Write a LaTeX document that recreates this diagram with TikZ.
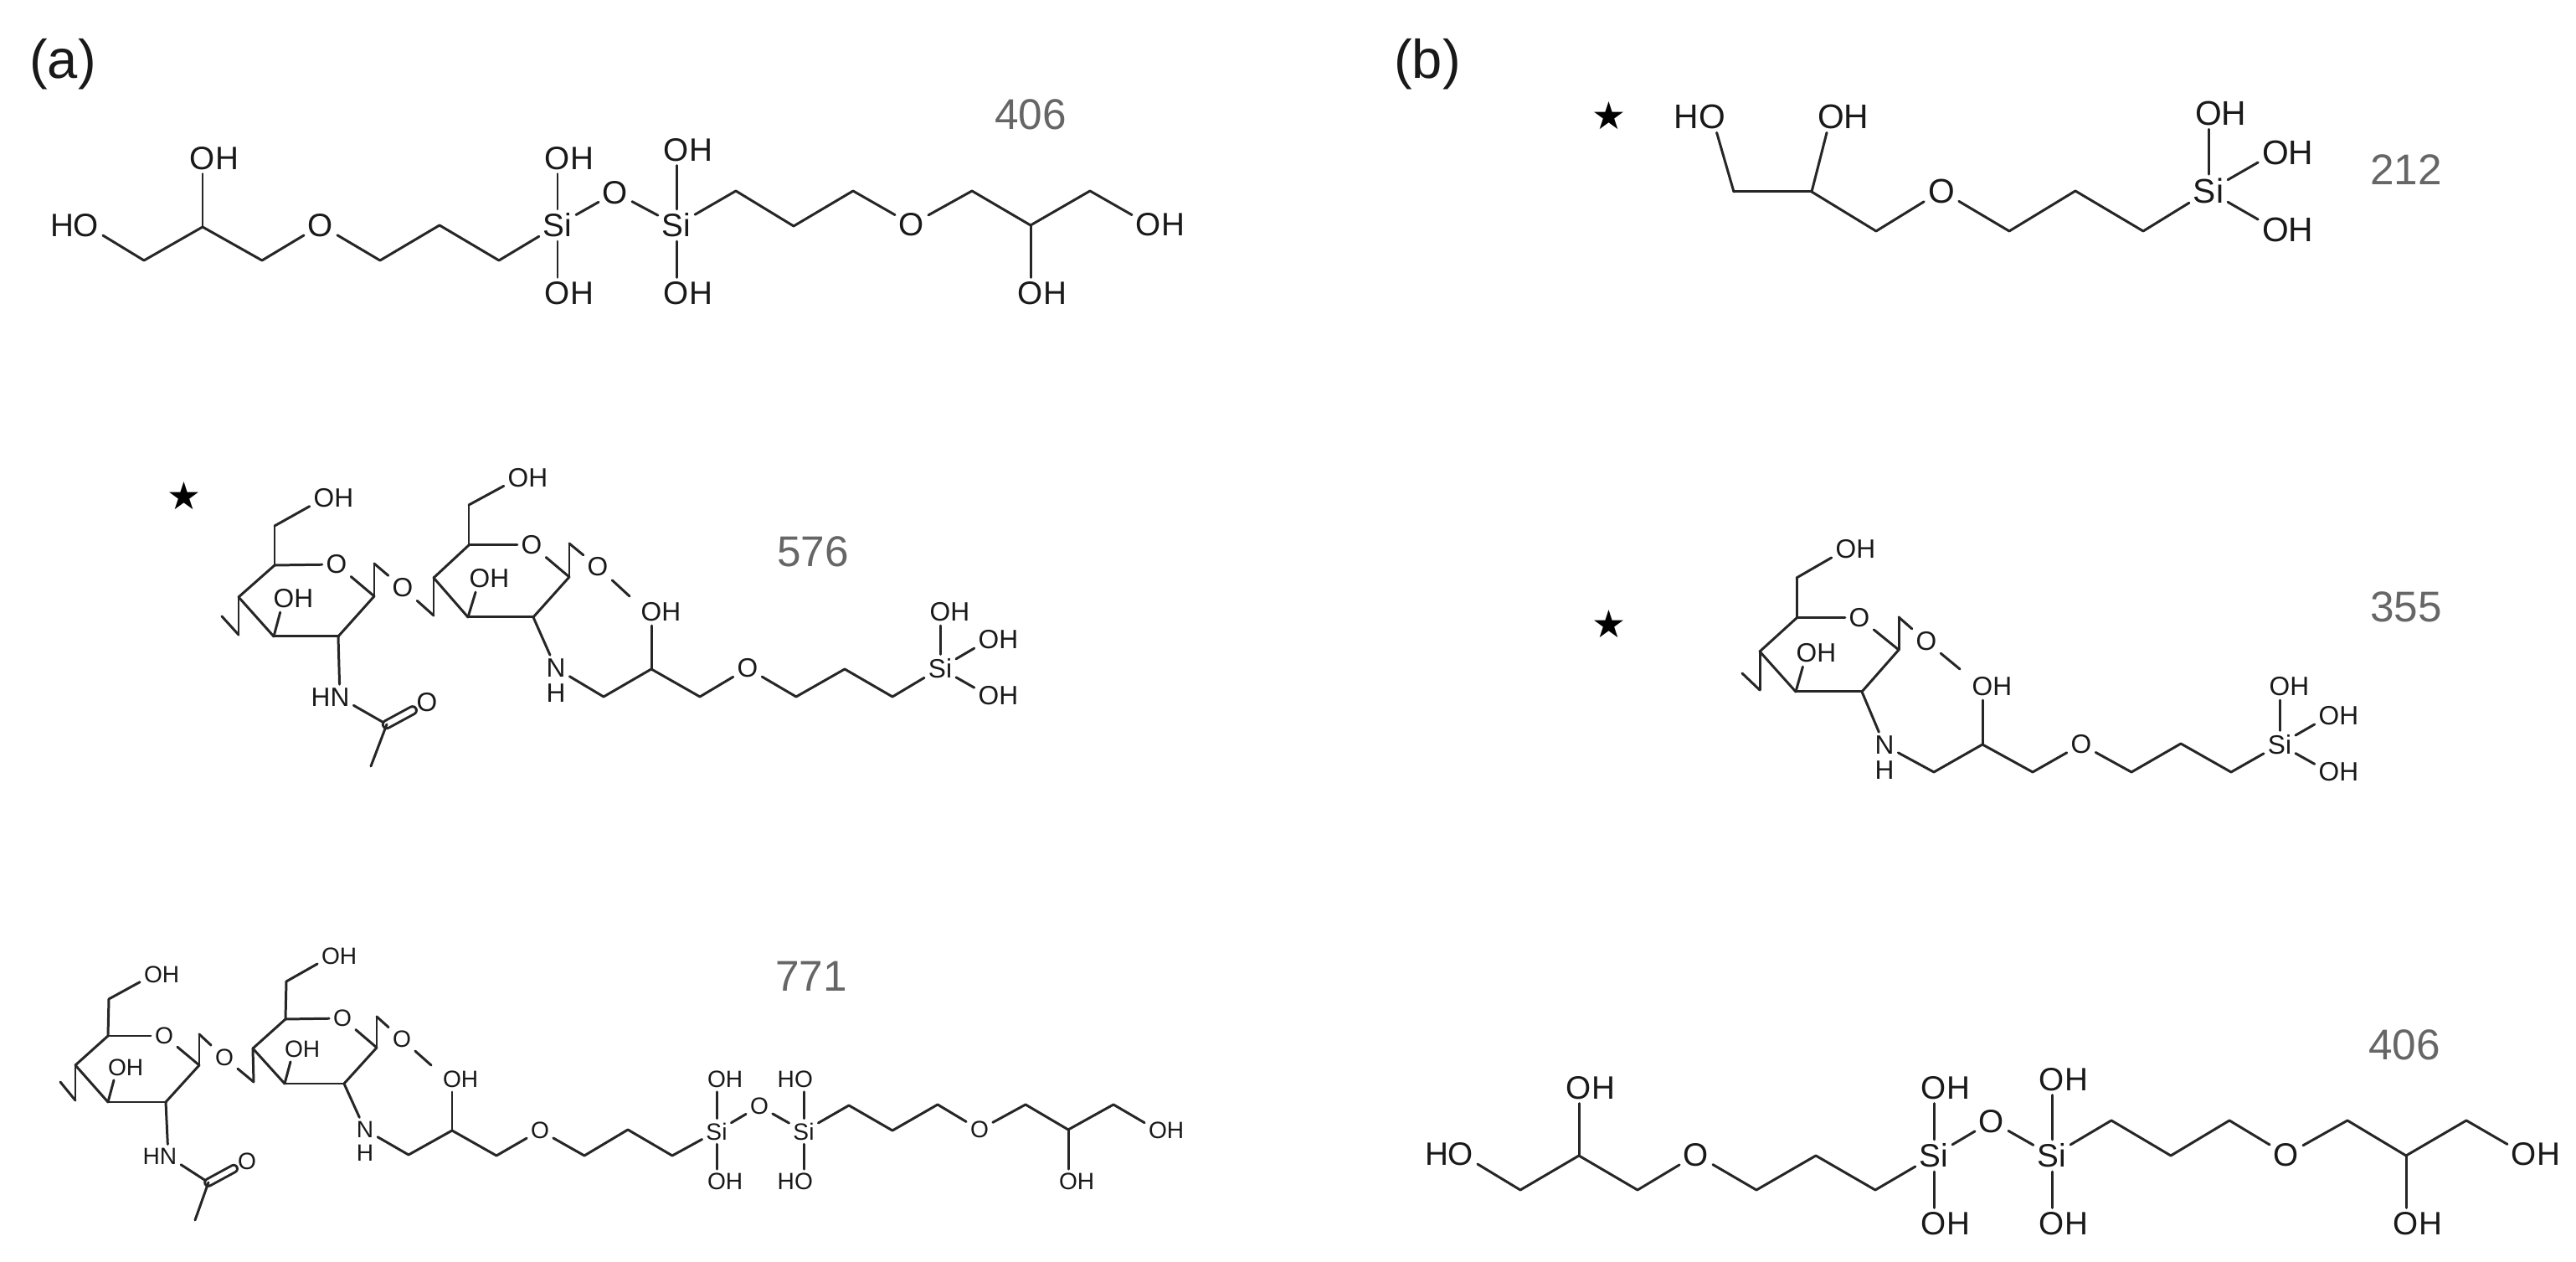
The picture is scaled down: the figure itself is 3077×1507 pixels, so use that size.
\documentclass[tikz,border=0pt]{standalone}
\usepackage{fontspec}
\usepackage{xcolor}
\usepackage{tikz}
\setmainfont{Liberation Sans}
\newfontfamily\starfont{DejaVu Sans}
\newcommand{\OHr}{O\rlap{H}}
\newcommand{\HOl}{\llap{H}O}
\newcommand{\HNl}{\llap{H}N}

\begin{document}
\begin{tikzpicture}[x=0.01cm,y=-0.01cm,
                    atom/.style={inner sep=1.2pt,text=black!90},
                    bond/.style={draw=black!85,line width=0.85pt,line cap=round},
                    mass/.style={inner sep=0pt,text=black!60,font=\fontsize{14.6}{17}\selectfont},
                    panel/.style={inner sep=0pt,text=black!90,font=\fontsize{18.5}{22}\selectfont},
                    starmark/.style={inner sep=0pt,font=\fontsize{13}{15}\starfont}]
            \useasboundingbox (0,0) rectangle (3077,1507);

            \node[panel] (pa) at (75,77) {(a)};
            \node[panel] (pb) at (1705,77) {(b)};
            \node[starmark] (sab) at (220,592) {★};
            \node[starmark] (sba) at (1922,138) {★};
            \node[starmark] (sbb) at (1922,745) {★};
            \node[mass] (maa) at (1231,137) {406};
            \node[mass] (mab) at (971,659) {576};
            \node[mass] (mac) at (969,1166) {771};
            \node[mass] (mba) at (2874,203) {212};
            \node[mass] (mbb) at (2874,725) {355};
            \node[mass] (mbc) at (2872,1248) {406};

            % panel a, top
            \begin{scope}[every node/.style={atom,font=\fontsize{11}{13}\selectfont}]
                \node (aa1) at (103,269) {\HOl};
                \coordinate (aa2) at (172,311);
                \coordinate (aa3) at (242,271);
                \node (aa4) at (242,189) {\OHr};
                \coordinate (aa5) at (313,311);
                \node (aa6) at (383,269) {O};
                \coordinate (aa7) at (454,311);
                \coordinate (aa8) at (525,269);
                \coordinate (aa9) at (596,311);
                \node (aa10) at (666,269) {Si};
                \node (aa11) at (666,189) {\OHr};
                \node (aa12) at (666,350) {\OHr};
                \node (aa13) at (735,230) {O};
                \node (aa14) at (808,269) {Si};
                \node (aa15) at (808,179) {\OHr};
                \node (aa16) at (808,350) {\OHr};
                \coordinate (aa17) at (879,228);
                \coordinate (aa18) at (948,270);
                \coordinate (aa19) at (1019,228);
                \node (aa20) at (1089,268) {O};
                \coordinate (aa21) at (1161,228);
                \coordinate (aa22) at (1231,269);
                \node (aa23) at (1231,350) {\OHr};
                \coordinate (aa24) at (1302,228);
                \node (aa25) at (1372,268) {\OHr};
            \end{scope}

            \begin{scope}[every edge/.style={bond}]
                \path [-] (aa1) edge (aa2) (aa2) edge (aa3) (aa3) edge (aa4) (aa3) edge (aa5);
                \path [-] (aa5) edge (aa6) (aa6) edge (aa7) (aa7) edge (aa8) (aa8) edge (aa9);
                \path [-] (aa9) edge (aa10) (aa10) edge (aa11) (aa10) edge (aa12) (aa10) edge (aa13);
                \path [-] (aa13) edge (aa14) (aa14) edge (aa15) (aa14) edge (aa16) (aa14) edge (aa17);
                \path [-] (aa17) edge (aa18) (aa18) edge (aa19) (aa19) edge (aa20) (aa20) edge (aa21);
                \path [-] (aa21) edge (aa22) (aa22) edge (aa23) (aa22) edge (aa24) (aa24) edge (aa25);
            \end{scope}

            % panel a, middle
            \begin{scope}[every node/.style={atom,font=\fontsize{9}{11}\selectfont}]
                \coordinate (ab1) at (328,675);
                \coordinate (ab2) at (328,628);
                \node (ab3) at (387,595) {\OHr};
                \node (ab4) at (402,674) {O};
                \coordinate (ab5) at (447,712);
                \coordinate (ab6) at (447,673);
                \node (ab7) at (481,702) {O};
                \coordinate (ab8) at (518,735);
                \coordinate (ab9) at (518,690);
                \coordinate (ab10) at (560,651);
                \coordinate (ab11) at (560,603);
                \node (ab12) at (619,571) {\OHr};
                \node (ab13) at (635,651) {O};
                \coordinate (ab14) at (680,689);
                \coordinate (ab15) at (680,649);
                \node (ab16) at (714,677) {O};
                \coordinate (ab17) at (752,712);
                \coordinate (ab18) at (559,737);
                \coordinate (ab19) at (637,737);
                \node (ab20) at (573,691) {\OHr};
                \node (ab21) at (664,798) {N};
                \node (ab22) at (664,828) {H};
                \coordinate (ab23) at (721,832);
                \coordinate (ab24) at (778,799);
                \node (ab25) at (778,731) {\OHr};
                \coordinate (ab26) at (836,832);
                \node (ab27) at (893,798) {O};
                \coordinate (ab28) at (951,832);
                \coordinate (ab29) at (1009,799);
                \coordinate (ab30) at (1066,832);
                \node (ab31) at (1123,798) {Si};
                \node (ab32) at (1123,731) {\OHr};
                \node (ab33) at (1181,764) {\OHr};
                \node (ab34) at (1181,831) {\OHr};
                \coordinate (ab35) at (404,760);
                \coordinate (ab36) at (327,760);
                \coordinate (ab37) at (285,713);
                \coordinate (ab38) at (285,758);
                \coordinate (ab39) at (265,736);
                \node (ab40) at (339,715) {\OHr};
                \node (ab41) at (406,833) {\HNl};
                \coordinate (ab42) at (462,865);
                \node (ab43) at (510,839) {O};
                \coordinate (ab44) at (443,915);
            \end{scope}

            \begin{scope}[every edge/.style={bond}]
                \path [-] (ab1) edge (ab2) (ab2) edge (ab3) (ab1) edge (ab4) (ab4) edge (ab5);
                \path [-] (ab5) edge (ab6) (ab6) edge (ab7) (ab7) edge (ab8) (ab8) edge (ab9);
                \path [-] (ab9) edge (ab10) (ab10) edge (ab11) (ab11) edge (ab12) (ab10) edge (ab13);
                \path [-] (ab13) edge (ab14) (ab14) edge (ab15) (ab15) edge (ab16) (ab16) edge (ab17);
                \path [-] (ab14) edge (ab19) (ab19) edge (ab18) (ab18) edge (ab9) (ab18) edge (ab20);
                \path [-] (ab19) edge (ab21) (ab21) edge (ab23) (ab23) edge (ab24) (ab24) edge (ab25);
                \path [-] (ab24) edge (ab26) (ab26) edge (ab27) (ab27) edge (ab28) (ab28) edge (ab29);
                \path [-] (ab29) edge (ab30) (ab30) edge (ab31) (ab31) edge (ab32) (ab31) edge (ab33) (ab31) edge (ab34);
                \path [-] (ab5) edge (ab35) (ab35) edge (ab36) (ab36) edge (ab37) (ab37) edge (ab1);
                \path [-] (ab37) edge (ab38) (ab38) edge (ab39) (ab36) edge (ab40) (ab35) edge (ab41);
                \path [-] (ab41) edge (ab42) (ab42) edge[double,double distance=1.8pt] (ab43) (ab42) edge (ab44);
            \end{scope}

            % panel a, bottom
            \begin{scope}[every node/.style={atom,font=\fontsize{8}{10}\selectfont}]
                \coordinate (ac1) at (129,1237);
                \coordinate (ac2) at (130,1193);
                \node (ac3) at (183,1164) {\OHr};
                \node (ac4) at (196,1237) {O};
                \coordinate (ac5) at (238,1272);
                \coordinate (ac6) at (238,1235);
                \node (ac7) at (268,1263) {O};
                \coordinate (ac8) at (303,1292);
                \coordinate (ac9) at (302,1252);
                \coordinate (ac10) at (341,1217);
                \coordinate (ac11) at (342,1172);
                \node (ac12) at (395,1142) {\OHr};
                \node (ac13) at (409,1216) {O};
                \coordinate (ac14) at (450,1251);
                \coordinate (ac15) at (450,1214);
                \node (ac16) at (480,1241) {O};
                \coordinate (ac17) at (515,1272);
                \coordinate (ac18) at (340,1294);
                \coordinate (ac19) at (411,1294);
                \node (ac20) at (351,1253) {\OHr};
                \node (ac21) at (436,1349) {N};
                \node (ac22) at (436,1377) {H};
                \coordinate (ac23) at (488,1379);
                \coordinate (ac24) at (540,1350);
                \node (ac25) at (540,1289) {\OHr};
                \coordinate (ac26) at (593,1380);
                \node (ac27) at (645,1350) {O};
                \coordinate (ac28) at (698,1380);
                \coordinate (ac29) at (750,1349);
                \coordinate (ac30) at (803,1380);
                \node (ac31) at (856,1351) {Si};
                \node (ac32) at (856,1289) {\OHr};
                \node (ac33) at (856,1411) {\OHr};
                \node (ac34) at (907,1321) {O};
                \node (ac35) at (960,1351) {Si};
                \node (ac36) at (960,1289) {\HOl};
                \node (ac37) at (960,1411) {\HOl};
                \coordinate (ac38) at (1014,1320);
                \coordinate (ac39) at (1066,1350);
                \coordinate (ac40) at (1120,1319);
                \node (ac41) at (1170,1349) {O};
                \coordinate (ac42) at (1225,1319);
                \coordinate (ac43) at (1276,1349);
                \node (ac44) at (1276,1411) {\OHr};
                \coordinate (ac45) at (1330,1319);
                \node (ac46) at (1383,1350) {\OHr};
                \coordinate (ac47) at (198,1316);
                \coordinate (ac48) at (129,1316);
                \coordinate (ac49) at (90,1272);
                \coordinate (ac50) at (90,1314);
                \coordinate (ac51) at (72,1292);
                \node (ac52) at (140,1275) {\OHr};
                \node (ac53) at (201,1381) {\HNl};
                \coordinate (ac54) at (249,1412);
                \node (ac55) at (295,1387) {O};
                \coordinate (ac56) at (233,1457);
            \end{scope}

            \begin{scope}[every edge/.style={bond}]
                \path [-] (ac1) edge (ac2) (ac2) edge (ac3) (ac1) edge (ac4) (ac4) edge (ac5);
                \path [-] (ac5) edge (ac6) (ac6) edge (ac7) (ac7) edge (ac8) (ac8) edge (ac9);
                \path [-] (ac9) edge (ac10) (ac10) edge (ac11) (ac11) edge (ac12) (ac10) edge (ac13);
                \path [-] (ac13) edge (ac14) (ac14) edge (ac15) (ac15) edge (ac16) (ac16) edge (ac17);
                \path [-] (ac14) edge (ac19) (ac19) edge (ac18) (ac18) edge (ac9) (ac18) edge (ac20);
                \path [-] (ac19) edge (ac21) (ac21) edge (ac23) (ac23) edge (ac24) (ac24) edge (ac25);
                \path [-] (ac24) edge (ac26) (ac26) edge (ac27) (ac27) edge (ac28) (ac28) edge (ac29);
                \path [-] (ac29) edge (ac30) (ac30) edge (ac31) (ac31) edge (ac32) (ac31) edge (ac33);
                \path [-] (ac31) edge (ac34) (ac34) edge (ac35) (ac35) edge (ac36) (ac35) edge (ac37);
                \path [-] (ac35) edge (ac38) (ac38) edge (ac39) (ac39) edge (ac40) (ac40) edge (ac41);
                \path [-] (ac41) edge (ac42) (ac42) edge (ac43) (ac43) edge (ac44) (ac43) edge (ac45) (ac45) edge (ac46);
                \path [-] (ac5) edge (ac47) (ac47) edge (ac48) (ac48) edge (ac49) (ac49) edge (ac1);
                \path [-] (ac49) edge (ac50) (ac50) edge (ac51) (ac48) edge (ac52) (ac47) edge (ac53);
                \path [-] (ac53) edge (ac54) (ac54) edge[double,double distance=1.6pt] (ac55) (ac54) edge (ac56);
            \end{scope}

            % panel b, top
            \begin{scope}[every node/.style={atom,font=\fontsize{11.6}{14}\selectfont}]
                \node (ba1) at (2045,139) {\HOl};
                \coordinate (ba2) at (2071,229);
                \coordinate (ba3) at (2164,229);
                \node (ba4) at (2187,139) {\OHr};
                \coordinate (ba5) at (2241,276);
                \node (ba6) at (2319,228) {O};
                \coordinate (ba7) at (2400,276);
                \coordinate (ba8) at (2479,228);
                \coordinate (ba9) at (2560,276);
                \node (ba10) at (2638,228) {Si};
                \node (ba11) at (2638,135) {\OHr};
                \node (ba12) at (2718,182) {\OHr};
                \node (ba13) at (2718,274) {\OHr};
            \end{scope}

            \begin{scope}[every edge/.style={bond}]
                \path [-] (ba1) edge (ba2) (ba2) edge (ba3) (ba3) edge (ba4) (ba3) edge (ba5);
                \path [-] (ba5) edge (ba6) (ba6) edge (ba7) (ba7) edge (ba8) (ba8) edge (ba9);
                \path [-] (ba9) edge (ba10) (ba10) edge (ba11) (ba10) edge (ba12) (ba10) edge (ba13);
            \end{scope}

            % panel b, middle
            \begin{scope}[every node/.style={atom,font=\fontsize{9}{11}\selectfont}]
                \coordinate (bb1) at (2146,738);
                \coordinate (bb2) at (2146,690);
                \node (bb3) at (2205,656) {\OHr};
                \node (bb4) at (2221,738) {O};
                \coordinate (bb5) at (2268,776);
                \coordinate (bb6) at (2268,737);
                \node (bb7) at (2301,766) {O};
                \coordinate (bb8) at (2341,799);
                \coordinate (bb9) at (2145,826);
                \coordinate (bb10) at (2224,826);
                \coordinate (bb11) at (2102,778);
                \coordinate (bb12) at (2102,824);
                \coordinate (bb13) at (2081,804);
                \node (bb14) at (2158,780) {\OHr};
                \node (bb15) at (2251,890) {N};
                \node (bb16) at (2251,920) {H};
                \coordinate (bb17) at (2310,922);
                \coordinate (bb18) at (2368,889);
                \node (bb19) at (2368,820) {\OHr};
                \coordinate (bb20) at (2428,922);
                \node (bb21) at (2486,889) {O};
                \coordinate (bb22) at (2546,922);
                \coordinate (bb23) at (2605,888);
                \coordinate (bb24) at (2665,922);
                \node (bb25) at (2723,889) {Si};
                \node (bb26) at (2723,820) {\OHr};
                \node (bb27) at (2782,855) {\OHr};
                \node (bb28) at (2782,922) {\OHr};
            \end{scope}

            \begin{scope}[every edge/.style={bond}]
                \path [-] (bb1) edge (bb2) (bb2) edge (bb3) (bb1) edge (bb4) (bb4) edge (bb5);
                \path [-] (bb5) edge (bb6) (bb6) edge (bb7) (bb7) edge (bb8) (bb5) edge (bb10);
                \path [-] (bb10) edge (bb9) (bb9) edge (bb11) (bb11) edge (bb1) (bb11) edge (bb12);
                \path [-] (bb12) edge (bb13) (bb9) edge (bb14) (bb10) edge (bb15) (bb15) edge (bb17);
                \path [-] (bb17) edge (bb18) (bb18) edge (bb19) (bb18) edge (bb20) (bb20) edge (bb21);
                \path [-] (bb21) edge (bb22) (bb22) edge (bb23) (bb23) edge (bb24) (bb24) edge (bb25);
                \path [-] (bb25) edge (bb26) (bb25) edge (bb27) (bb25) edge (bb28);
            \end{scope}

            % panel b, bottom
            \begin{scope}[every node/.style={atom,font=\fontsize{11}{13}\selectfont}]
                \node (bc1) at (1745,1378) {\HOl};
                \coordinate (bc2) at (1816,1421);
                \coordinate (bc3) at (1886,1380);
                \node (bc4) at (1886,1299) {\OHr};
                \coordinate (bc5) at (1956,1421);
                \node (bc6) at (2026,1379) {O};
                \coordinate (bc7) at (2098,1421);
                \coordinate (bc8) at (2169,1380);
                \coordinate (bc9) at (2240,1421);
                \node (bc10) at (2310,1380) {Si};
                \node (bc11) at (2310,1299) {\OHr};
                \node (bc12) at (2310,1461) {\OHr};
                \node (bc13) at (2379,1339) {O};
                \node (bc14) at (2451,1380) {Si};
                \node (bc15) at (2451,1289) {\OHr};
                \node (bc16) at (2451,1461) {\OHr};
                \coordinate (bc17) at (2522,1338);
                \coordinate (bc18) at (2593,1380);
                \coordinate (bc19) at (2663,1338);
                \node (bc20) at (2731,1379) {O};
                \coordinate (bc21) at (2804,1338);
                \coordinate (bc22) at (2874,1380);
                \node (bc23) at (2874,1461) {\OHr};
                \coordinate (bc24) at (2946,1338);
                \node (bc25) at (3015,1378) {\OHr};
            \end{scope}

            \begin{scope}[every edge/.style={bond}]
                \path [-] (bc1) edge (bc2) (bc2) edge (bc3) (bc3) edge (bc4) (bc3) edge (bc5);
                \path [-] (bc5) edge (bc6) (bc6) edge (bc7) (bc7) edge (bc8) (bc8) edge (bc9);
                \path [-] (bc9) edge (bc10) (bc10) edge (bc11) (bc10) edge (bc12) (bc10) edge (bc13);
                \path [-] (bc13) edge (bc14) (bc14) edge (bc15) (bc14) edge (bc16) (bc14) edge (bc17);
                \path [-] (bc17) edge (bc18) (bc18) edge (bc19) (bc19) edge (bc20) (bc20) edge (bc21);
                \path [-] (bc21) edge (bc22) (bc22) edge (bc23) (bc22) edge (bc24) (bc24) edge (bc25);
            \end{scope}
            \end{tikzpicture}
\end{document}
